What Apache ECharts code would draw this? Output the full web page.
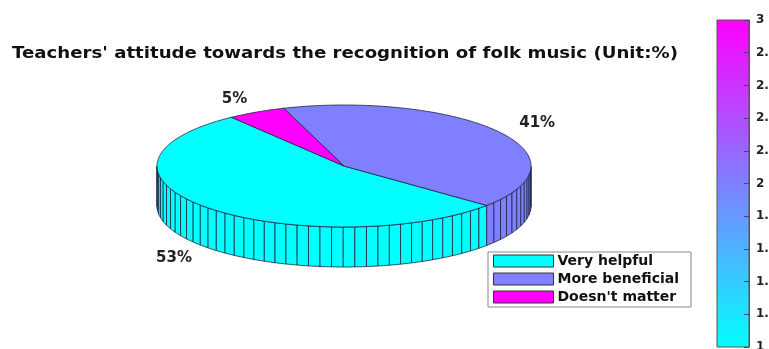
<!DOCTYPE html>
<html><head><meta charset="utf-8">
<script src="https://cdn.jsdelivr.net/npm/echarts/dist/echarts.min.js"></script>
<style>html,body{margin:0;padding:0;background:#fff}#c{width:769px;height:349px}</style>
</head><body><div id="c"></div>
<script>
// ---- data ----
const categories = ['Very helpful', 'More beneficial', "Doesn't matter"];
const values = [53, 41, 5];
const sliceColors = ['#00FFFF', '#7F7FFF', '#FF00FF'];
const colorbarMin = 1;
const colorbarMax = 3;
const colorbarStep = 0.2;
const titleText = "Teachers' attitude towards the recognition of folk music (Unit:%)";

// ---- layout ----
const PIE = { cx: 344, cy: 166, rx: 187, ry: 61, depth: 40, start: 127, labelR: 1.25 };
const EDGE = '#1d2640';
const FONT = '"DejaVu Sans", "Liberation Sans", sans-serif';

const total = values.reduce((a, b) => a + b, 0);
const rad = d => d * Math.PI / 180;
function pt(deg, dy) {
  return [PIE.cx + PIE.rx * Math.cos(rad(deg)), PIE.cy - PIE.ry * Math.sin(rad(deg)) + (dy || 0)];
}

function makeRender(idx) {
  return function (params, api) {
    let a0 = PIE.start;
    for (let k = 0; k < idx; k++) a0 += values[k] / total * 360;
    const v = api.value(0);
    const a1 = a0 + v / total * 360;
    const n = Math.max(1, Math.ceil(100 * v / total));
    const color = sliceColors[idx];
    const children = [];
    // side wall (front-facing part only)
    for (let j = 0; j < n; j++) {
      const t0 = a0 + (a1 - a0) * j / n, t1 = a0 + (a1 - a0) * (j + 1) / n;
      for (let k = -1; k <= 2; k++) {
        const f0 = 180 + 360 * k, f1 = 360 + 360 * k;
        const s = Math.max(t0, f0), e = Math.min(t1, f1);
        if (e - s > 1e-6) {
          const sub = Math.max(1, Math.ceil((e - s) / 1));
          const top = [], bot = [];
          for (let q = 0; q <= sub; q++) {
            const d = s + (e - s) * q / sub;
            top.push(pt(d)); bot.push(pt(d, PIE.depth));
          }
          children.push({
            type: 'polygon',
            shape: { points: top.concat(bot.reverse()) },
            style: { fill: color, stroke: EDGE, lineWidth: 0.8 }
          });
        }
      }
    }
    // top face
    const arc = [[PIE.cx, PIE.cy]];
    const m = Math.max(8, Math.ceil((a1 - a0) / 1));
    for (let j = 0; j <= m; j++) arc.push(pt(a0 + (a1 - a0) * j / m));
    children.push({
      type: 'polygon', shape: { points: arc },
      style: { fill: color, stroke: EDGE, lineWidth: 0.8 }
    });
    // percent label
    const mid = (a0 + a1) / 2;
    const s = Math.sin(rad(mid));
    children.push({
      type: 'text',
      x: PIE.cx + PIE.labelR * PIE.rx * Math.cos(rad(mid)),
      y: PIE.cy - PIE.labelR * PIE.ry * s + (s < 0 ? PIE.depth : 0),
      style: {
        text: v + '%', align: 'center', verticalAlign: 'middle',
        fontFamily: FONT, fontWeight: 'bold', fontSize: 15, fill: '#222'
      }
    });
    return { type: 'group', children: children };
  };
}

// title stretch to match reference width
const mctx = document.createElement('canvas').getContext('2d');
mctx.font = 'bold 15px "DejaVu Sans"';
const titleW = mctx.measureText(titleText).width;
const titleScale = 666 / titleW;

const series = categories.map((name, i) => ({
  type: 'custom',
  name: name,
  coordinateSystem: 'none',
  itemStyle: { color: sliceColors[i] },
  renderItem: makeRender(i),
  data: [[values[i]]],
  silent: true
}));

series.push({
  type: 'custom',
  name: 'colorbar',
  xAxisIndex: 0, yAxisIndex: 0,
  data: [[0, colorbarMin, colorbarMax]],
  renderItem: function (params, api) {
    const p1 = api.coord([0, api.value(2)]);
    const p2 = api.coord([1, api.value(1)]);
    return {
      type: 'rect',
      shape: { x: p1[0], y: p1[1], width: p2[0] - p1[0], height: p2[1] - p1[1] },
      style: {
        fill: new echarts.graphic.LinearGradient(0, 0, 0, 1, [
          { offset: 0, color: '#FF00FF' },
          { offset: 1, color: '#00FFFF' }
        ]),
        stroke: '#555', lineWidth: 1
      }
    };
  },
  silent: true,
  z: 0
});

const chart = echarts.init(document.getElementById('c'), null, { renderer: 'canvas' });
chart.setOption({
  backgroundColor: '#fff',
  animation: false,
  graphic: [{
    type: 'text', x: 12, y: 54, scaleX: titleScale,
    style: {
      text: titleText, fontFamily: FONT, fontWeight: 'bold', fontSize: 15,
      fill: '#111', verticalAlign: 'middle'
    }
  }],
  grid: { left: 717, top: 20, width: 32, height: 327, outerBoundsMode: 'none', containLabel: false },
  xAxis: { type: 'value', min: 0, max: 1, show: false },
  yAxis: {
    type: 'value', position: 'right', min: colorbarMin, max: colorbarMax, interval: colorbarStep,
    z: 5,
    axisLine: { show: true, onZero: false, lineStyle: { color: '#555' } },
    axisTick: { show: true, inside: true, length: 5, lineStyle: { color: '#553a7a' } },
    splitLine: { show: false },
    axisLabel: {
      margin: 7, color: '#222', fontFamily: FONT, fontWeight: 'bold', fontSize: 12,
      formatter: v => String(+v.toFixed(1))
    }
  },
  legend: {
    data: categories,
    orient: 'vertical', left: 488, top: 252,
    icon: 'rect', itemWidth: 60, itemHeight: 12, itemGap: 4,
    padding: [2, 12, 3, 5],
    borderColor: '#888', borderWidth: 1, backgroundColor: '#fff',
    itemStyle: { borderColor: '#333', borderWidth: 1 },
    textStyle: { fontFamily: FONT, fontWeight: 'bold', fontSize: 14, color: '#111', lineHeight: 12, padding: [0, 0, 0, -1] },
    selectedMode: false
  },
  series: series
});
</script>
</body></html>
